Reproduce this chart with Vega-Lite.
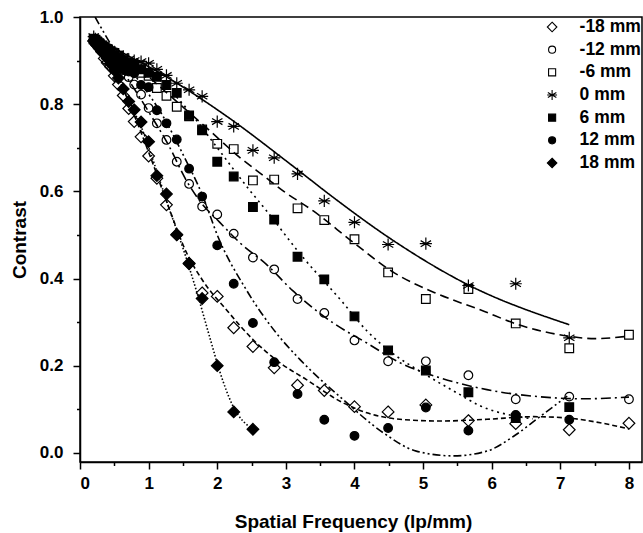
{
  "$schema": "https://vega.github.io/schema/vega-lite/v6.json",
  "width": 562,
  "height": 445,
  "autosize": {"type": "none"},
  "padding": {"left": 80, "top": 17, "right": 1, "bottom": 71},
  "background": "white",
  "config": {
    "view": {"stroke": "black", "strokeWidth": 1.5},
    "axis": {
      "domainColor": "black", "domainWidth": 1.5, "ticks": true, "tickColor": "black", "tickWidth": 1.5,
      "labelFont": "Liberation Sans", "labelFontWeight": "bold", "labelFontSize": 17, "labelColor": "black",
      "titleFont": "Liberation Sans", "titleFontWeight": "bold", "titleFontSize": 19, "titleColor": "black",
      "grid": false, "labelOverlap": false
    }
  },
  "datasets": {
    "leg": [{"s":"-18 mm"},{"s":"-12 mm"},{"s":"-6 mm"},{"s":"0 mm"},{"s":"6 mm"},{"s":"12 mm"},{"s":"18 mm"}],
    "pts": [
      {"s":"-18 mm","x":0.2,"y":0.945},{"s":"-18 mm","x":0.223,"y":0.94},{"s":"-18 mm","x":0.25,"y":0.934},{"s":"-18 mm","x":0.28,"y":0.928},{"s":"-18 mm","x":0.315,"y":0.92},{"s":"-18 mm","x":0.354,"y":0.905},{"s":"-18 mm","x":0.397,"y":0.895},{"s":"-18 mm","x":0.445,"y":0.886},{"s":"-18 mm","x":0.5,"y":0.865},{"s":"-18 mm","x":0.56,"y":0.845},{"s":"-18 mm","x":0.63,"y":0.82},{"s":"-18 mm","x":0.71,"y":0.79},{"s":"-18 mm","x":0.79,"y":0.76},{"s":"-18 mm","x":0.89,"y":0.725},{"s":"-18 mm","x":1.0,"y":0.681},{"s":"-18 mm","x":1.12,"y":0.63},{"s":"-18 mm","x":1.26,"y":0.569},{"s":"-18 mm","x":1.41,"y":0.5},{"s":"-18 mm","x":1.59,"y":0.435},{"s":"-18 mm","x":1.78,"y":0.367},{"s":"-18 mm","x":2.0,"y":0.359},{"s":"-18 mm","x":2.24,"y":0.287},{"s":"-18 mm","x":2.52,"y":0.244},{"s":"-18 mm","x":2.83,"y":0.195},{"s":"-18 mm","x":3.17,"y":0.155},{"s":"-18 mm","x":3.56,"y":0.143},{"s":"-18 mm","x":4.0,"y":0.106},{"s":"-18 mm","x":4.49,"y":0.094},{"s":"-18 mm","x":5.04,"y":0.11},{"s":"-18 mm","x":5.66,"y":0.074},{"s":"-18 mm","x":6.35,"y":0.067},{"s":"-18 mm","x":7.13,"y":0.053},{"s":"-18 mm","x":8.0,"y":0.068},
      {"s":"-12 mm","x":0.2,"y":0.948},{"s":"-12 mm","x":0.223,"y":0.945},{"s":"-12 mm","x":0.25,"y":0.94},{"s":"-12 mm","x":0.28,"y":0.935},{"s":"-12 mm","x":0.315,"y":0.93},{"s":"-12 mm","x":0.354,"y":0.925},{"s":"-12 mm","x":0.397,"y":0.918},{"s":"-12 mm","x":0.445,"y":0.91},{"s":"-12 mm","x":0.5,"y":0.9},{"s":"-12 mm","x":0.56,"y":0.89},{"s":"-12 mm","x":0.63,"y":0.878},{"s":"-12 mm","x":0.71,"y":0.862},{"s":"-12 mm","x":0.79,"y":0.845},{"s":"-12 mm","x":0.89,"y":0.822},{"s":"-12 mm","x":1.0,"y":0.791},{"s":"-12 mm","x":1.12,"y":0.756},{"s":"-12 mm","x":1.26,"y":0.718},{"s":"-12 mm","x":1.41,"y":0.668},{"s":"-12 mm","x":1.59,"y":0.617},{"s":"-12 mm","x":1.78,"y":0.565},{"s":"-12 mm","x":2.0,"y":0.547},{"s":"-12 mm","x":2.24,"y":0.503},{"s":"-12 mm","x":2.52,"y":0.448},{"s":"-12 mm","x":2.83,"y":0.421},{"s":"-12 mm","x":3.17,"y":0.353},{"s":"-12 mm","x":3.56,"y":0.321},{"s":"-12 mm","x":4.0,"y":0.258},{"s":"-12 mm","x":4.49,"y":0.21},{"s":"-12 mm","x":5.04,"y":0.21},{"s":"-12 mm","x":5.66,"y":0.178},{"s":"-12 mm","x":6.35,"y":0.123},{"s":"-12 mm","x":7.13,"y":0.129},{"s":"-12 mm","x":8.0,"y":0.123},
      {"s":"-6 mm","x":0.2,"y":0.95},{"s":"-6 mm","x":0.223,"y":0.948},{"s":"-6 mm","x":0.25,"y":0.944},{"s":"-6 mm","x":0.28,"y":0.94},{"s":"-6 mm","x":0.315,"y":0.935},{"s":"-6 mm","x":0.354,"y":0.93},{"s":"-6 mm","x":0.397,"y":0.925},{"s":"-6 mm","x":0.445,"y":0.92},{"s":"-6 mm","x":0.5,"y":0.912},{"s":"-6 mm","x":0.56,"y":0.905},{"s":"-6 mm","x":0.63,"y":0.898},{"s":"-6 mm","x":0.71,"y":0.89},{"s":"-6 mm","x":0.79,"y":0.884},{"s":"-6 mm","x":0.89,"y":0.872},{"s":"-6 mm","x":1.0,"y":0.865},{"s":"-6 mm","x":1.12,"y":0.837},{"s":"-6 mm","x":1.26,"y":0.819},{"s":"-6 mm","x":1.41,"y":0.794},{"s":"-6 mm","x":1.59,"y":0.772},{"s":"-6 mm","x":1.78,"y":0.742},{"s":"-6 mm","x":2.0,"y":0.709},{"s":"-6 mm","x":2.24,"y":0.697},{"s":"-6 mm","x":2.52,"y":0.625},{"s":"-6 mm","x":2.83,"y":0.627},{"s":"-6 mm","x":3.17,"y":0.561},{"s":"-6 mm","x":3.56,"y":0.534},{"s":"-6 mm","x":4.0,"y":0.49},{"s":"-6 mm","x":4.49,"y":0.414},{"s":"-6 mm","x":5.04,"y":0.353},{"s":"-6 mm","x":5.66,"y":0.376},{"s":"-6 mm","x":6.35,"y":0.297},{"s":"-6 mm","x":7.13,"y":0.24},{"s":"-6 mm","x":8.0,"y":0.271},
      {"s":"0 mm","x":0.2,"y":0.955},{"s":"0 mm","x":0.223,"y":0.95},{"s":"0 mm","x":0.25,"y":0.946},{"s":"0 mm","x":0.28,"y":0.942},{"s":"0 mm","x":0.315,"y":0.938},{"s":"0 mm","x":0.354,"y":0.934},{"s":"0 mm","x":0.397,"y":0.93},{"s":"0 mm","x":0.445,"y":0.925},{"s":"0 mm","x":0.5,"y":0.92},{"s":"0 mm","x":0.56,"y":0.915},{"s":"0 mm","x":0.63,"y":0.91},{"s":"0 mm","x":0.71,"y":0.903},{"s":"0 mm","x":0.79,"y":0.9},{"s":"0 mm","x":0.89,"y":0.898},{"s":"0 mm","x":1.0,"y":0.894},{"s":"0 mm","x":1.12,"y":0.88},{"s":"0 mm","x":1.26,"y":0.866},{"s":"0 mm","x":1.41,"y":0.848},{"s":"0 mm","x":1.59,"y":0.833},{"s":"0 mm","x":1.78,"y":0.818},{"s":"0 mm","x":2.0,"y":0.76},{"s":"0 mm","x":2.24,"y":0.749},{"s":"0 mm","x":2.52,"y":0.694},{"s":"0 mm","x":2.83,"y":0.677},{"s":"0 mm","x":3.17,"y":0.64},{"s":"0 mm","x":3.56,"y":0.578},{"s":"0 mm","x":4.0,"y":0.529},{"s":"0 mm","x":4.49,"y":0.478},{"s":"0 mm","x":5.04,"y":0.48},{"s":"0 mm","x":5.66,"y":0.384},{"s":"0 mm","x":6.35,"y":0.388},{"s":"0 mm","x":7.13,"y":0.264},
      {"s":"6 mm","x":0.2,"y":0.948},{"s":"6 mm","x":0.223,"y":0.945},{"s":"6 mm","x":0.25,"y":0.942},{"s":"6 mm","x":0.28,"y":0.938},{"s":"6 mm","x":0.315,"y":0.934},{"s":"6 mm","x":0.354,"y":0.93},{"s":"6 mm","x":0.397,"y":0.925},{"s":"6 mm","x":0.445,"y":0.918},{"s":"6 mm","x":0.5,"y":0.912},{"s":"6 mm","x":0.56,"y":0.905},{"s":"6 mm","x":0.63,"y":0.9},{"s":"6 mm","x":0.71,"y":0.893},{"s":"6 mm","x":0.79,"y":0.888},{"s":"6 mm","x":0.89,"y":0.88},{"s":"6 mm","x":1.0,"y":0.872},{"s":"6 mm","x":1.12,"y":0.863},{"s":"6 mm","x":1.26,"y":0.844},{"s":"6 mm","x":1.41,"y":0.826},{"s":"6 mm","x":1.59,"y":0.774},{"s":"6 mm","x":1.78,"y":0.74},{"s":"6 mm","x":2.0,"y":0.668},{"s":"6 mm","x":2.24,"y":0.634},{"s":"6 mm","x":2.52,"y":0.564},{"s":"6 mm","x":2.83,"y":0.535},{"s":"6 mm","x":3.17,"y":0.45},{"s":"6 mm","x":3.56,"y":0.398},{"s":"6 mm","x":4.0,"y":0.313},{"s":"6 mm","x":4.49,"y":0.235},{"s":"6 mm","x":5.04,"y":0.189},{"s":"6 mm","x":5.66,"y":0.139},{"s":"6 mm","x":6.35,"y":0.08},{"s":"6 mm","x":7.13,"y":0.105},
      {"s":"12 mm","x":0.2,"y":0.945},{"s":"12 mm","x":0.223,"y":0.94},{"s":"12 mm","x":0.25,"y":0.937},{"s":"12 mm","x":0.28,"y":0.932},{"s":"12 mm","x":0.315,"y":0.927},{"s":"12 mm","x":0.354,"y":0.92},{"s":"12 mm","x":0.397,"y":0.913},{"s":"12 mm","x":0.445,"y":0.905},{"s":"12 mm","x":0.5,"y":0.895},{"s":"12 mm","x":0.56,"y":0.885},{"s":"12 mm","x":0.63,"y":0.88},{"s":"12 mm","x":0.71,"y":0.875},{"s":"12 mm","x":0.79,"y":0.871},{"s":"12 mm","x":0.89,"y":0.844},{"s":"12 mm","x":1.0,"y":0.839},{"s":"12 mm","x":1.12,"y":0.786},{"s":"12 mm","x":1.26,"y":0.756},{"s":"12 mm","x":1.41,"y":0.719},{"s":"12 mm","x":1.59,"y":0.652},{"s":"12 mm","x":1.78,"y":0.588},{"s":"12 mm","x":2.0,"y":0.476},{"s":"12 mm","x":2.24,"y":0.388},{"s":"12 mm","x":2.52,"y":0.298},{"s":"12 mm","x":2.83,"y":0.208},{"s":"12 mm","x":3.17,"y":0.135},{"s":"12 mm","x":3.56,"y":0.076},{"s":"12 mm","x":4.0,"y":0.039},{"s":"12 mm","x":4.49,"y":0.057},{"s":"12 mm","x":5.04,"y":0.104},{"s":"12 mm","x":5.66,"y":0.051},{"s":"12 mm","x":6.35,"y":0.087},{"s":"12 mm","x":7.13,"y":0.076},
      {"s":"18 mm","x":0.2,"y":0.945},{"s":"18 mm","x":0.223,"y":0.94},{"s":"18 mm","x":0.25,"y":0.935},{"s":"18 mm","x":0.28,"y":0.93},{"s":"18 mm","x":0.315,"y":0.922},{"s":"18 mm","x":0.354,"y":0.915},{"s":"18 mm","x":0.397,"y":0.905},{"s":"18 mm","x":0.445,"y":0.893},{"s":"18 mm","x":0.5,"y":0.878},{"s":"18 mm","x":0.56,"y":0.86},{"s":"18 mm","x":0.63,"y":0.835},{"s":"18 mm","x":0.71,"y":0.806},{"s":"18 mm","x":0.79,"y":0.787},{"s":"18 mm","x":0.89,"y":0.759},{"s":"18 mm","x":1.0,"y":0.714},{"s":"18 mm","x":1.12,"y":0.636},{"s":"18 mm","x":1.26,"y":0.594},{"s":"18 mm","x":1.41,"y":0.501},{"s":"18 mm","x":1.59,"y":0.434},{"s":"18 mm","x":1.78,"y":0.354},{"s":"18 mm","x":2.0,"y":0.2},{"s":"18 mm","x":2.24,"y":0.094},{"s":"18 mm","x":2.52,"y":0.054}
    ],
    "fits": [
      {"f":"0 mm","x":0.22,"y":0.955},{"f":"0 mm","x":0.6,"y":0.92},{"f":"0 mm","x":1.16,"y":0.872},{"f":"0 mm","x":2.14,"y":0.772},{"f":"0 mm","x":3.11,"y":0.657},{"f":"0 mm","x":3.7,"y":0.585},{"f":"0 mm","x":4.5,"y":0.494},{"f":"0 mm","x":5.65,"y":0.386},{"f":"0 mm","x":7.13,"y":0.294},
      {"f":"-6 mm","x":0.22,"y":0.96},{"f":"-6 mm","x":0.7,"y":0.905},{"f":"-6 mm","x":1.2,"y":0.835},{"f":"-6 mm","x":1.8,"y":0.752},{"f":"-6 mm","x":2.35,"y":0.675},{"f":"-6 mm","x":2.69,"y":0.634},{"f":"-6 mm","x":2.97,"y":0.6},{"f":"-6 mm","x":3.4,"y":0.555},{"f":"-6 mm","x":3.99,"y":0.482},{"f":"-6 mm","x":4.58,"y":0.413},{"f":"-6 mm","x":5.16,"y":0.368},{"f":"-6 mm","x":5.85,"y":0.327},{"f":"-6 mm","x":6.43,"y":0.292},{"f":"-6 mm","x":7.11,"y":0.268},{"f":"-6 mm","x":7.5,"y":0.262},{"f":"-6 mm","x":8.0,"y":0.268},
      {"f":"6 mm","x":0.22,"y":0.955},{"f":"6 mm","x":0.7,"y":0.912},{"f":"6 mm","x":1.2,"y":0.85},{"f":"6 mm","x":1.65,"y":0.772},{"f":"6 mm","x":2.0,"y":0.7},{"f":"6 mm","x":2.46,"y":0.605},{"f":"6 mm","x":2.72,"y":0.555},{"f":"6 mm","x":3.2,"y":0.458},{"f":"6 mm","x":3.83,"y":0.345},{"f":"6 mm","x":4.18,"y":0.28},{"f":"6 mm","x":4.5,"y":0.235},{"f":"6 mm","x":5.03,"y":0.18},{"f":"6 mm","x":5.5,"y":0.137},{"f":"6 mm","x":5.83,"y":0.108},{"f":"6 mm","x":6.32,"y":0.085},{"f":"6 mm","x":6.6,"y":0.078},
      {"f":"-12 mm","x":0.22,"y":0.955},{"f":"-12 mm","x":0.6,"y":0.88},{"f":"-12 mm","x":1.01,"y":0.78},{"f":"-12 mm","x":1.3,"y":0.703},{"f":"-12 mm","x":1.55,"y":0.625},{"f":"-12 mm","x":1.76,"y":0.575},{"f":"-12 mm","x":2.03,"y":0.53},{"f":"-12 mm","x":2.33,"y":0.482},{"f":"-12 mm","x":2.72,"y":0.432},{"f":"-12 mm","x":3.1,"y":0.372},{"f":"-12 mm","x":3.69,"y":0.298},{"f":"-12 mm","x":4.18,"y":0.252},{"f":"-12 mm","x":4.66,"y":0.207},{"f":"-12 mm","x":5.25,"y":0.172},{"f":"-12 mm","x":5.93,"y":0.145},{"f":"-12 mm","x":6.61,"y":0.13},{"f":"-12 mm","x":7.34,"y":0.124},{"f":"-12 mm","x":8.0,"y":0.128},
      {"f":"12 mm","x":0.22,"y":1.0},{"f":"12 mm","x":0.5,"y":0.925},{"f":"12 mm","x":0.9,"y":0.845},{"f":"12 mm","x":1.2,"y":0.775},{"f":"12 mm","x":1.5,"y":0.685},{"f":"12 mm","x":1.8,"y":0.585},{"f":"12 mm","x":2.0,"y":0.5},{"f":"12 mm","x":2.42,"y":0.375},{"f":"12 mm","x":2.86,"y":0.275},{"f":"12 mm","x":3.2,"y":0.215},{"f":"12 mm","x":3.83,"y":0.123},{"f":"12 mm","x":4.42,"y":0.046},{"f":"12 mm","x":4.9,"y":0.004},{"f":"12 mm","x":5.44,"y":-0.007},{"f":"12 mm","x":5.93,"y":0.004},{"f":"12 mm","x":6.32,"y":0.038},{"f":"12 mm","x":6.71,"y":0.084},{"f":"12 mm","x":7.1,"y":0.13},
      {"f":"-18 mm","x":0.22,"y":0.955},{"f":"-18 mm","x":0.5,"y":0.88},{"f":"-18 mm","x":0.75,"y":0.79},{"f":"-18 mm","x":1.0,"y":0.69},{"f":"-18 mm","x":1.3,"y":0.56},{"f":"-18 mm","x":1.55,"y":0.46},{"f":"-18 mm","x":1.79,"y":0.395},{"f":"-18 mm","x":2.13,"y":0.329},{"f":"-18 mm","x":2.52,"y":0.26},{"f":"-18 mm","x":2.91,"y":0.207},{"f":"-18 mm","x":3.3,"y":0.168},{"f":"-18 mm","x":3.83,"y":0.115},{"f":"-18 mm","x":4.18,"y":0.092},{"f":"-18 mm","x":4.66,"y":0.077},{"f":"-18 mm","x":5.25,"y":0.073},{"f":"-18 mm","x":5.93,"y":0.077},{"f":"-18 mm","x":6.61,"y":0.083},{"f":"-18 mm","x":7.1,"y":0.08},{"f":"-18 mm","x":7.58,"y":0.069},{"f":"-18 mm","x":8.0,"y":0.055},
      {"f":"18 mm","x":0.22,"y":0.95},{"f":"18 mm","x":0.5,"y":0.88},{"f":"18 mm","x":0.7,"y":0.81},{"f":"18 mm","x":0.9,"y":0.745},{"f":"18 mm","x":1.1,"y":0.655},{"f":"18 mm","x":1.3,"y":0.56},{"f":"18 mm","x":1.5,"y":0.47},{"f":"18 mm","x":1.7,"y":0.37},{"f":"18 mm","x":1.9,"y":0.26},{"f":"18 mm","x":2.03,"y":0.19},{"f":"18 mm","x":2.23,"y":0.107},{"f":"18 mm","x":2.52,"y":0.054}
    ]
  },
  "resolve": {"axis": {"x": "independent", "y": "independent"}, "scale": {"y": "independent"}},
  "layer": [
    {
      "data": {"name": "fits"},
      "mark": {"type": "line", "color": "black", "strokeWidth": 1.6, "interpolate": "monotone", "clip": true},
      "encoding": {
        "x": {"field": "x", "type": "quantitative", "scale": {"domain": [0, 8.19], "nice": false, "zero": false},
          "axis": {"orient": "bottom", "title": null, "values": [0.5,1.5,2.5,3.5,4.5,5.5,6.5,7.5], "labels": false, "domain": false, "ticks": true, "tickSize": 3.5}},
        "y": {"field": "y", "type": "quantitative", "scale": {"domain": [-0.021, 1.0], "nice": false, "zero": false},
          "axis": {"orient": "left", "title": null, "values": [0.1,0.3,0.5,0.7,0.9], "labels": false, "domain": false, "ticks": true, "tickSize": 3.5}},
        "detail": {"field": "f"},
        "strokeDash": {"field": "f", "type": "nominal", "legend": null,
          "scale": {"domain": ["-18 mm","-12 mm","-6 mm","0 mm","6 mm","12 mm","18 mm"],
            "range": [[5,3],[10,4,2,4],[9,5],[1,0],[2,4],[8,3,2,3,2,3],[1.5,2]]}}
      }
    },
    {
      "data": {"name": "pts"},
      "mark": {"type": "point", "stroke": "black", "strokeWidth": 1.2, "opacity": 1, "size": 75},
      "encoding": {
        "x": {"field": "x", "type": "quantitative",
          "axis": {"orient": "bottom", "title": "Spatial Frequency (lp/mm)", "values": [0,1,2,3,4,5,6,7,8], "format": "d",
            "ticks": true, "tickSize": 7, "labelPadding": 6, "titlePadding": 21, "titleX": 273}},
        "y": {"field": "y", "type": "quantitative", "scale": {"domain": [-0.021, 1.0], "nice": false, "zero": false},
          "axis": {"orient": "left", "title": "Contrast", "values": [0,0.2,0.4,0.6,0.8,1.0], "format": ".1f",
            "ticks": true, "tickSize": 7, "labelPadding": 10, "titlePadding": 10}},
        "shape": {"field": "s", "type": "nominal", "legend": null,
          "scale": {"domain": ["-18 mm","-12 mm","-6 mm","0 mm","6 mm","12 mm","18 mm"],
            "range": ["M0,-1.35L1.35,0L0,1.35L-1.35,0Z","circle","square","M0,-1.4L0,1.4M-1.2,-0.7L1.2,0.7M-1.2,0.7L1.2,-0.7M-1.4,0L1.4,0","square","circle","M0,-1.35L1.35,0L0,1.35L-1.35,0Z"]}},
        "fill": {"field": "s", "type": "nominal", "legend": null,
          "scale": {"domain": ["-18 mm","-12 mm","-6 mm","0 mm","6 mm","12 mm","18 mm"],
            "range": ["transparent","transparent","transparent","transparent","black","black","black"]}}
      }
    },
    {
      "data": {"name": "leg"},
      "mark": {"type": "point", "stroke": "black", "strokeWidth": 1.1, "opacity": 1, "size": 50},
      "encoding": {
        "x": {"datum": 6.88, "type": "quantitative", "axis": null},
        "y": {"field": "s", "type": "ordinal", "axis": null,
          "scale": {"domain": ["-18 mm","-12 mm","-6 mm","0 mm","6 mm","12 mm","18 mm"], "range": [10, 146], "padding": 0}},
        "shape": {"field": "s", "type": "nominal", "legend": null},
        "fill": {"field": "s", "type": "nominal", "legend": null}
      }
    },
    {
      "data": {"name": "leg"},
      "mark": {"type": "text", "align": "left", "baseline": "middle", "font": "Liberation Sans", "fontWeight": "bold", "fontSize": 17.5, "color": "black"},
      "encoding": {
        "x": {"datum": 7.28, "type": "quantitative", "axis": null},
        "y": {"field": "s", "type": "ordinal", "axis": null,
          "scale": {"domain": ["-18 mm","-12 mm","-6 mm","0 mm","6 mm","12 mm","18 mm"], "range": [10, 146], "padding": 0}},
        "text": {"field": "s"}
      }
    }
  ]
}
